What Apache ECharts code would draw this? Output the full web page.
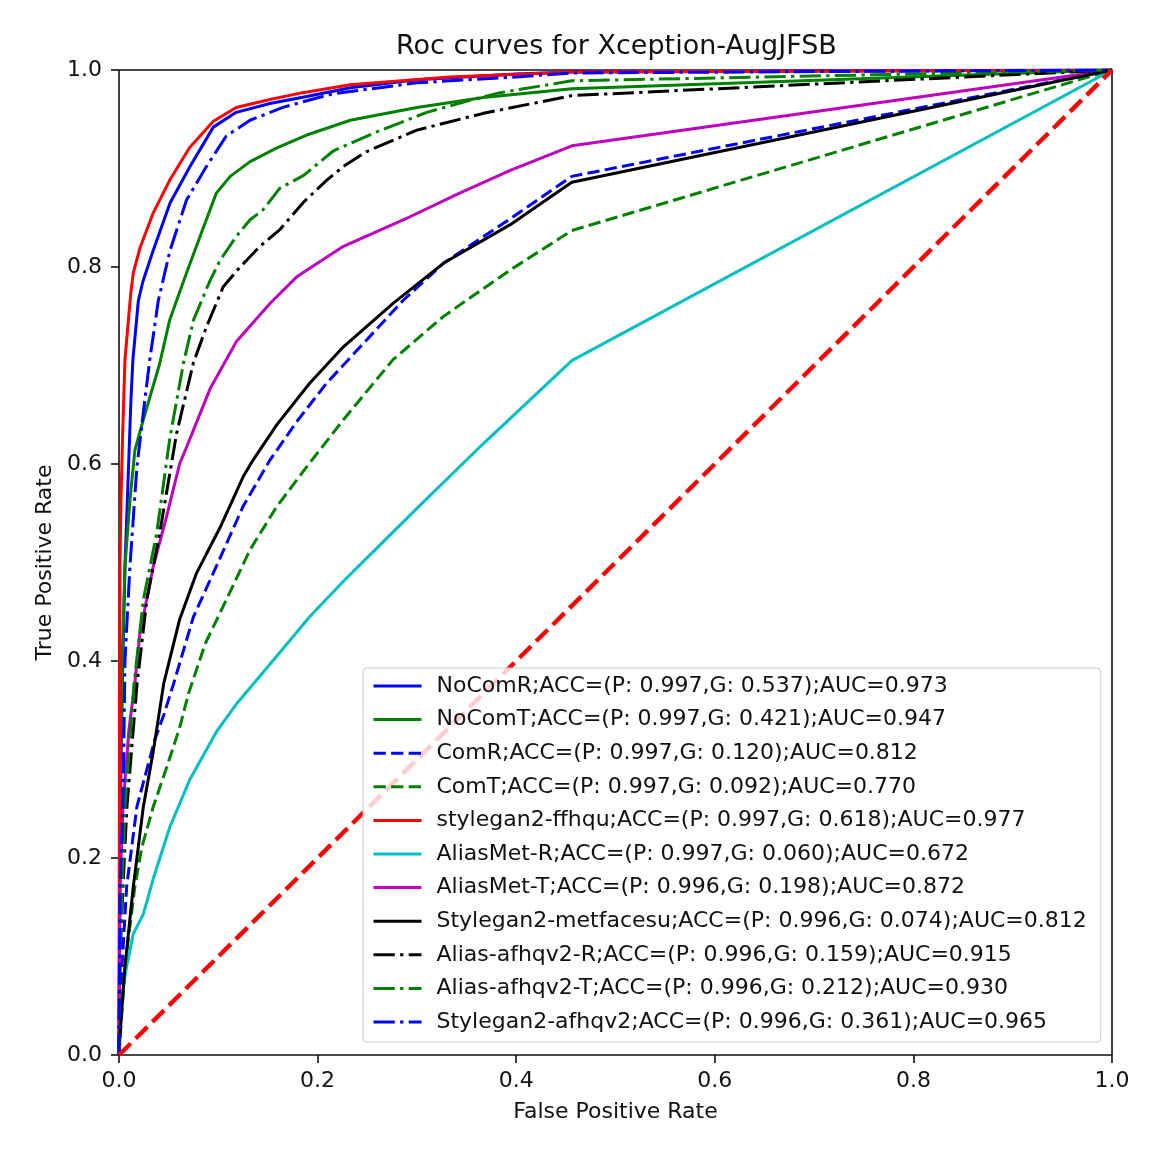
<!DOCTYPE html>
<html>
<head>
<meta charset="utf-8">
<script src="https://cdn.jsdelivr.net/npm/echarts@6/dist/echarts.min.js"></script>
<style>
html,body{margin:0;padding:0;background:#fff;}
#chart{width:1171px;height:1169px;}
</style>
</head>
<body>
<div id="chart"></div>
<script>
// ---- data (FPR, TPR pairs) ----
const xTicks = [0.0, 0.2, 0.4, 0.6, 0.8, 1.0];
const yTicks = [0.0, 0.2, 0.4, 0.6, 0.8, 1.0];

const seriesNames = [
  'NoComR;ACC=(P: 0.997,G: 0.537);AUC=0.973',
  'NoComT;ACC=(P: 0.997,G: 0.421);AUC=0.947',
  'ComR;ACC=(P: 0.997,G: 0.120);AUC=0.812',
  'ComT;ACC=(P: 0.997,G: 0.092);AUC=0.770',
  'stylegan2-ffhqu;ACC=(P: 0.997,G: 0.618);AUC=0.977',
  'AliasMet-R;ACC=(P: 0.997,G: 0.060);AUC=0.672',
  'AliasMet-T;ACC=(P: 0.996,G: 0.198);AUC=0.872',
  'Stylegan2-metfacesu;ACC=(P: 0.996,G: 0.074);AUC=0.812',
  'Alias-afhqv2-R;ACC=(P: 0.996,G: 0.159);AUC=0.915',
  'Alias-afhqv2-T;ACC=(P: 0.996,G: 0.212);AUC=0.930',
  'Stylegan2-afhqv2;ACC=(P: 0.996,G: 0.361);AUC=0.965'
];

const rocNoComR = [[0,0],[0.001,0.2],[0.002,0.3],[0.0037,0.394],[0.006,0.496],[0.009,0.58],[0.012,0.665],[0.014,0.706],[0.0195,0.766],[0.024,0.785],[0.0345,0.817],[0.0514,0.865],[0.0715,0.902],[0.095,0.942],[0.118,0.957],[0.152,0.966],[0.189,0.973],[0.233,0.982],[0.3,0.99],[0.4,0.996],[0.456,0.998],[1,1]];
const rocNoComT = [[0,0],[0.001,0.25],[0.003,0.394],[0.006,0.496],[0.011,0.563],[0.016,0.614],[0.0245,0.645],[0.041,0.702],[0.051,0.746],[0.058,0.766],[0.068,0.794],[0.0816,0.831],[0.098,0.875],[0.112,0.892],[0.132,0.907],[0.159,0.921],[0.189,0.934],[0.233,0.949],[0.3,0.962],[0.367,0.972],[0.456,0.981],[1,1]];
const rocComR = [[0,0],[0.003,0.09],[0.0077,0.171],[0.018,0.252],[0.036,0.32],[0.045,0.345],[0.055,0.377],[0.075,0.445],[0.098,0.496],[0.125,0.557],[0.152,0.604],[0.179,0.643],[0.209,0.682],[0.243,0.719],[0.286,0.766],[0.327,0.804],[0.394,0.849],[0.456,0.892],[1,1]];
const rocComT = [[0,0],[0.006,0.09],[0.016,0.171],[0.023,0.211],[0.0345,0.252],[0.048,0.292],[0.061,0.332],[0.07,0.367],[0.087,0.418],[0.108,0.462],[0.132,0.513],[0.159,0.557],[0.192,0.601],[0.226,0.645],[0.276,0.706],[0.327,0.750],[0.394,0.797],[0.456,0.837],[1,1]];
const rocFfhqu = [[0,0],[0.0005,0.35],[0.001,0.5],[0.002,0.564],[0.0037,0.631],[0.006,0.706],[0.0118,0.773],[0.0144,0.794],[0.021,0.819],[0.0345,0.855],[0.051,0.888],[0.071,0.921],[0.095,0.948],[0.118,0.962],[0.152,0.970],[0.185,0.977],[0.233,0.985],[0.333,0.993],[0.434,0.997],[0.456,0.998],[1,1]];
const rocAliasMetR = [[0,0],[0.001,0.05],[0.0077,0.09],[0.0144,0.123],[0.0245,0.143],[0.0345,0.179],[0.051,0.231],[0.0715,0.280],[0.098,0.328],[0.118,0.356],[0.159,0.405],[0.192,0.445],[0.226,0.481],[0.30,0.555],[0.36,0.614],[0.456,0.705],[1,1]];
const rocAliasMetT = [[0,0],[0.001,0.171],[0.004,0.252],[0.01,0.33],[0.016,0.378],[0.021,0.428],[0.0345,0.496],[0.048,0.547],[0.061,0.600],[0.068,0.617],[0.092,0.677],[0.118,0.724],[0.152,0.763],[0.179,0.790],[0.226,0.821],[0.293,0.851],[0.343,0.875],[0.394,0.898],[0.456,0.923],[1,1]];
const rocMetfacesu = [[0,0],[0.001,0.02],[0.006,0.09],[0.0144,0.171],[0.0245,0.252],[0.0345,0.308],[0.045,0.377],[0.061,0.442],[0.078,0.489],[0.102,0.536],[0.125,0.587],[0.135,0.604],[0.159,0.640],[0.192,0.682],[0.226,0.719],[0.276,0.763],[0.327,0.804],[0.394,0.843],[0.456,0.886],[1,1]];
const rocAfhqR = [[0,0],[0.001,0.1],[0.004,0.171],[0.008,0.252],[0.018,0.375],[0.028,0.462],[0.041,0.530],[0.058,0.631],[0.075,0.703],[0.088,0.739],[0.105,0.780],[0.122,0.800],[0.142,0.821],[0.162,0.838],[0.186,0.866],[0.209,0.888],[0.226,0.902],[0.249,0.917],[0.3,0.939],[0.367,0.956],[0.456,0.974],[1,1]];
const rocAfhqT = [[0,0],[0.001,0.1],[0.003,0.171],[0.006,0.252],[0.015,0.375],[0.0245,0.462],[0.038,0.530],[0.051,0.625],[0.065,0.703],[0.075,0.746],[0.092,0.787],[0.102,0.807],[0.118,0.831],[0.132,0.848],[0.145,0.858],[0.162,0.880],[0.186,0.893],[0.216,0.918],[0.259,0.937],[0.31,0.957],[0.36,0.971],[0.384,0.977],[0.456,0.989],[1,1]];
const rocAfhqv2 = [[0,0],[0.001,0.17],[0.004,0.25],[0.006,0.40],[0.011,0.496],[0.018,0.597],[0.026,0.665],[0.031,0.706],[0.0396,0.766],[0.0514,0.817],[0.068,0.868],[0.088,0.902],[0.108,0.933],[0.132,0.949],[0.165,0.962],[0.179,0.966],[0.216,0.976],[0.3,0.987],[0.4,0.993],[0.456,0.997],[1,1]];
const chanceLine = [[0,0],[1,1]];

// ---- styles ----
const DASH = [12.3, 5.3];
const DASHDOT = [21.3, 5.3, 3.3, 5.3];
const curveData = [rocNoComR, rocNoComT, rocComR, rocComT, rocFfhqu, rocAliasMetR, rocAliasMetT, rocMetfacesu, rocAfhqR, rocAfhqT, rocAfhqv2];
const curveColors = ['#0000ff','#008000','#0000ff','#008000','#ff0000','#00bfbf','#bf00bf','#000000','#000000','#008000','#0000ff'];
const curveDash = ['solid','solid',DASH,DASH,'solid','solid','solid','solid',DASHDOT,DASHDOT,DASHDOT];

const FONT = 'DejaVu Sans';
const FS = 22;
const series = curveData.map((d, i) => ({
  name: seriesNames[i],
  type: 'line',
  data: d,
  symbol: 'none',
  showSymbol: false,
  smooth: false,
  animation: false,
  z: 2,
  lineStyle: { color: curveColors[i], width: 3, type: curveDash[i] },
  itemStyle: { color: curveColors[i] }
}));
series.push({
  name: 'chance',
  type: 'line',
  data: chanceLine,
  symbol: 'none',
  animation: false,
  z: 3,
  lineStyle: { color: '#ff0000', width: 4.4, type: [16.4, 7.1] }
});

const chart = echarts.init(document.getElementById('chart'), null, { renderer: 'canvas' });
chart.setOption({
  backgroundColor: '#ffffff',
  animation: false,
  title: {
    text: 'Roc curves for Xception-AugJFSB',
    left: 396, top: 33, padding: 0,
    textStyle: { fontFamily: FONT, fontSize: 27, fontWeight: 'normal', color: '#111' }
  },
  grid: {
    left: 119, right: 59, top: 70, bottom: 114,
    show: true, borderColor: '#111', borderWidth: 1.6, backgroundColor: 'transparent'
  },
  legend: {
    data: seriesNames,
    orient: 'vertical',
    left: 363, top: 668,
    itemWidth: 48, itemHeight: 14, itemGap: 11.6,
    padding: [7, 14, 9, 9],
    backgroundColor: 'rgba(255,255,255,0.8)',
    borderColor: '#cccccc', borderWidth: 1, borderRadius: 4,
    z: 10,
    itemStyle: { opacity: 0, borderWidth: 0 },
    lineStyle: { width: 3 },
    textStyle: { fontFamily: FONT, fontSize: FS, color: '#111', lineHeight: 22, padding: [0, 0, 0, 10] },
    selectedMode: false
  },
  xAxis: {
    type: 'value', min: 0, max: 1, interval: 0.2,
    name: 'False Positive Rate', nameLocation: 'middle', nameGap: 46,
    nameTextStyle: { fontFamily: FONT, fontSize: FS, color: '#111' },
    axisLine: { show: false },
    axisTick: { show: true, length: 8, lineStyle: { color: '#111', width: 1.6 } },
    axisLabel: { margin: 15, fontFamily: FONT, fontSize: FS, color: '#111', formatter: v => v.toFixed(1) },
    splitLine: { show: false }
  },
  yAxis: {
    type: 'value', min: 0, max: 1, interval: 0.2,
    name: 'True Positive Rate', nameLocation: 'middle', nameGap: 63,
    nameTextStyle: { fontFamily: FONT, fontSize: FS, color: '#111' },
    axisLine: { show: false },
    axisTick: { show: true, length: 8, lineStyle: { color: '#111', width: 1.6 } },
    axisLabel: { margin: 17, fontFamily: FONT, fontSize: FS, color: '#111', formatter: v => v.toFixed(1) },
    splitLine: { show: false }
  },
  series: series
});
</script>
</body>
</html>
